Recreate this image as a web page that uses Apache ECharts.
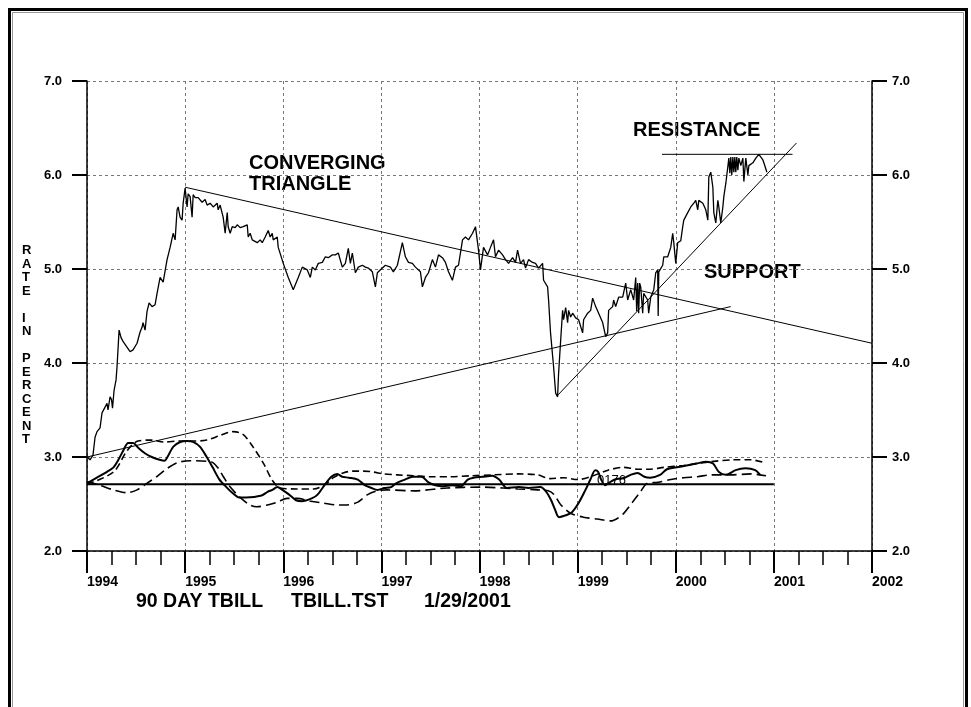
<!DOCTYPE html>
<html>
<head>
<meta charset="utf-8">
<script src="https://cdn.jsdelivr.net/npm/echarts@6/dist/echarts.min.js"></script>
<style>
html, body { margin: 0; padding: 0; background: #fff; }
#chart { width: 971px; height: 707px; }
</style>
</head>
<body>
<div id="chart"></div>
<script>
// 90 day T-bill rate, weekly-ish readings [decimal year, percent]
var tbill = [
  [1994.000, 3.00], [1994.031, 2.97], [1994.061, 3.02], [1994.082, 3.21], [1994.102, 3.27],
  [1994.133, 3.31], [1994.153, 3.47], [1994.184, 3.53], [1994.204, 3.57], [1994.214, 3.50],
  [1994.235, 3.64], [1994.250, 3.61], [1994.260, 3.52], [1994.276, 3.71], [1994.296, 3.82],
  [1994.306, 3.96], [1994.327, 4.35], [1994.347, 4.27], [1994.367, 4.23], [1994.439, 4.12],
  [1994.469, 4.14], [1994.510, 4.21], [1994.541, 4.33], [1994.561, 4.38], [1994.571, 4.43],
  [1994.592, 4.35], [1994.612, 4.55], [1994.633, 4.64], [1994.663, 4.60], [1994.694, 4.62],
  [1994.714, 4.74], [1994.745, 4.91], [1994.776, 4.86], [1994.816, 5.10], [1994.847, 5.23],
  [1994.878, 5.38], [1994.898, 5.31], [1994.918, 5.63], [1994.929, 5.66], [1994.949, 5.55],
  [1994.969, 5.52], [1994.980, 5.70], [1995.000, 5.86], [1995.020, 5.66], [1995.031, 5.80],
  [1995.051, 5.77], [1995.071, 5.55], [1995.082, 5.79], [1995.102, 5.76], [1995.133, 5.76],
  [1995.173, 5.71], [1995.204, 5.74], [1995.224, 5.68], [1995.255, 5.70], [1995.286, 5.66],
  [1995.327, 5.70], [1995.337, 5.63], [1995.357, 5.68], [1995.388, 5.55], [1995.408, 5.38],
  [1995.429, 5.60], [1995.439, 5.45], [1995.459, 5.38], [1995.480, 5.45], [1995.510, 5.44],
  [1995.531, 5.47], [1995.561, 5.44], [1995.592, 5.45], [1995.633, 5.47], [1995.643, 5.34],
  [1995.663, 5.38], [1995.684, 5.31], [1995.694, 5.33], [1995.735, 5.28], [1995.765, 5.31],
  [1995.786, 5.28], [1995.816, 5.34], [1995.847, 5.41], [1995.867, 5.34], [1995.888, 5.38],
  [1995.898, 5.31], [1995.939, 5.34], [1995.949, 5.23], [1996.000, 5.06], [1996.051, 4.91],
  [1996.102, 4.78], [1996.153, 4.91], [1996.194, 5.02], [1996.245, 4.99], [1996.276, 4.91],
  [1996.296, 5.02], [1996.327, 4.99], [1996.357, 5.06], [1996.398, 5.07], [1996.429, 5.13],
  [1996.459, 5.12], [1996.500, 5.15], [1996.531, 5.15], [1996.561, 5.17], [1996.602, 5.02],
  [1996.633, 5.06], [1996.663, 5.22], [1996.684, 5.06], [1996.704, 5.17], [1996.735, 4.96],
  [1996.765, 5.02], [1996.806, 5.04], [1996.837, 5.02], [1996.867, 5.01], [1996.908, 4.97],
  [1996.939, 4.81], [1996.959, 4.96], [1997.010, 5.01], [1997.041, 5.04], [1997.092, 5.02],
  [1997.122, 4.97], [1997.163, 5.04], [1997.214, 5.28], [1997.245, 5.13], [1997.276, 5.07],
  [1997.316, 5.06], [1997.347, 5.02], [1997.398, 4.97], [1997.418, 4.81], [1997.449, 4.91],
  [1997.480, 4.96], [1997.520, 5.10], [1997.551, 5.02], [1997.582, 5.15], [1997.622, 5.12],
  [1997.653, 5.07], [1997.684, 4.97], [1997.724, 4.88], [1997.755, 5.02], [1997.786, 5.04],
  [1997.827, 5.31], [1997.857, 5.34], [1997.888, 5.31], [1997.929, 5.38], [1997.959, 5.45],
  [1997.990, 5.20], [1998.010, 4.99], [1998.041, 5.23], [1998.082, 5.15], [1998.112, 5.23],
  [1998.143, 5.31], [1998.163, 5.13], [1998.194, 5.20], [1998.235, 5.15], [1998.265, 5.10],
  [1998.296, 5.06], [1998.337, 5.12], [1998.367, 5.07], [1998.388, 5.20], [1998.418, 5.06],
  [1998.449, 5.10], [1998.469, 5.01], [1998.500, 5.10], [1998.541, 5.07], [1998.571, 5.06],
  [1998.602, 5.01], [1998.643, 5.06], [1998.653, 4.88], [1998.694, 4.81], [1998.704, 4.67],
  [1998.724, 4.32], [1998.755, 3.96], [1998.776, 3.68], [1998.796, 3.64], [1998.806, 3.89],
  [1998.827, 4.24], [1998.847, 4.56], [1998.857, 4.46], [1998.878, 4.59], [1998.898, 4.43],
  [1998.908, 4.56], [1998.929, 4.49], [1998.949, 4.53], [1998.980, 4.48], [1999.010, 4.46],
  [1999.051, 4.32], [1999.061, 4.46], [1999.102, 4.53], [1999.133, 4.56], [1999.153, 4.69],
  [1999.184, 4.60], [1999.214, 4.53], [1999.255, 4.43], [1999.286, 4.28], [1999.306, 4.32],
  [1999.316, 4.56], [1999.357, 4.60], [1999.367, 4.67], [1999.388, 4.60], [1999.418, 4.70],
  [1999.459, 4.70], [1999.490, 4.85], [1999.510, 4.67], [1999.541, 4.78], [1999.571, 4.67],
  [1999.592, 4.91], [1999.602, 4.55], [1999.612, 4.85], [1999.622, 4.53], [1999.632, 4.85],
  [1999.643, 4.81], [1999.663, 4.53], [1999.673, 4.74], [1999.714, 4.67], [1999.724, 4.53],
  [1999.745, 4.70], [1999.776, 4.78], [1999.796, 4.96], [1999.816, 4.99], [1999.821, 4.50],
  [1999.827, 4.97], [1999.867, 5.04], [1999.878, 5.13], [1999.918, 5.13], [1999.949, 5.23],
  [1999.969, 5.38], [1999.980, 5.28], [2000.000, 5.06], [2000.020, 5.28], [2000.051, 5.30],
  [2000.071, 5.45], [2000.082, 5.52], [2000.122, 5.60], [2000.153, 5.66], [2000.184, 5.70],
  [2000.204, 5.73], [2000.224, 5.63], [2000.235, 5.73], [2000.276, 5.70], [2000.306, 5.63],
  [2000.327, 5.52], [2000.337, 5.98], [2000.357, 6.03], [2000.378, 5.87], [2000.388, 5.60],
  [2000.408, 5.49], [2000.429, 5.73], [2000.439, 5.66], [2000.459, 5.49], [2000.480, 5.66],
  [2000.490, 5.77], [2000.510, 5.91], [2000.531, 6.09], [2000.541, 6.18], [2000.551, 6.02],
  [2000.561, 6.19], [2000.571, 6.00], [2000.582, 6.19], [2000.592, 6.03], [2000.602, 6.19],
  [2000.612, 6.03], [2000.622, 6.19], [2000.633, 6.05], [2000.643, 6.18], [2000.663, 6.10],
  [2000.684, 6.18], [2000.694, 5.93], [2000.714, 6.18], [2000.735, 6.00], [2000.745, 6.10],
  [2000.786, 6.13], [2000.816, 6.18], [2000.847, 6.22], [2000.888, 6.16], [2000.898, 6.13],
  [2000.929, 6.03]
];

// oscillators drawn under the price
var oscSolid = [
  [1994.00, 2.72], [1994.10, 2.78], [1994.20, 2.84], [1994.27, 2.89], [1994.32, 2.97],
  [1994.37, 3.07], [1994.42, 3.15], [1994.47, 3.15], [1994.52, 3.10], [1994.59, 3.04],
  [1994.66, 3.00], [1994.74, 2.97], [1994.79, 2.96], [1994.82, 3.00], [1994.88, 3.11],
  [1994.95, 3.16], [1995.02, 3.17], [1995.08, 3.16], [1995.15, 3.11], [1995.22, 3.00],
  [1995.28, 2.89], [1995.35, 2.76], [1995.42, 2.68], [1995.48, 2.62], [1995.55, 2.57],
  [1995.62, 2.57], [1995.78, 2.59], [1995.84, 2.63], [1995.89, 2.65], [1995.94, 2.68],
  [1995.99, 2.65], [1996.06, 2.60], [1996.13, 2.54], [1996.19, 2.53], [1996.29, 2.56],
  [1996.35, 2.60], [1996.42, 2.70], [1996.49, 2.79], [1996.55, 2.82], [1996.60, 2.79],
  [1996.67, 2.78], [1996.76, 2.76], [1996.83, 2.70], [1996.90, 2.67], [1996.96, 2.65],
  [1997.03, 2.67], [1997.10, 2.68], [1997.15, 2.72], [1997.24, 2.76], [1997.32, 2.79],
  [1997.41, 2.79], [1997.48, 2.73], [1997.55, 2.70], [1997.63, 2.69], [1997.72, 2.70],
  [1997.81, 2.69], [1997.88, 2.76], [1997.94, 2.78], [1998.03, 2.79], [1998.13, 2.80],
  [1998.20, 2.76], [1998.28, 2.67], [1998.40, 2.68], [1998.50, 2.67], [1998.62, 2.68],
  [1998.68, 2.63], [1998.73, 2.54], [1998.77, 2.44], [1998.81, 2.36], [1998.88, 2.38],
  [1998.94, 2.41], [1999.01, 2.51], [1999.08, 2.65], [1999.13, 2.76], [1999.18, 2.86],
  [1999.21, 2.84], [1999.24, 2.76], [1999.28, 2.70], [1999.31, 2.72], [1999.38, 2.76],
  [1999.48, 2.78], [1999.54, 2.81], [1999.61, 2.83], [1999.68, 2.79], [1999.74, 2.78],
  [1999.84, 2.81], [1999.91, 2.87], [2000.01, 2.89], [2000.11, 2.91], [2000.21, 2.93],
  [2000.31, 2.95], [2000.38, 2.93], [2000.44, 2.84], [2000.51, 2.81], [2000.61, 2.86],
  [2000.71, 2.88], [2000.81, 2.86], [2000.86, 2.81]
];

var oscShortDash = [
  [1994.00, 2.71], [1994.27, 2.84], [1994.41, 3.07], [1994.52, 3.17], [1994.66, 3.18],
  [1994.78, 3.16], [1994.95, 3.17], [1995.08, 3.17], [1995.22, 3.18], [1995.36, 3.23],
  [1995.49, 3.27], [1995.59, 3.24], [1995.69, 3.11], [1995.80, 2.93], [1995.89, 2.75],
  [1995.97, 2.67], [1996.14, 2.66], [1996.31, 2.66], [1996.43, 2.71], [1996.51, 2.78],
  [1996.61, 2.83], [1996.71, 2.85], [1996.82, 2.85], [1996.92, 2.84], [1997.02, 2.82],
  [1997.16, 2.81], [1997.33, 2.80], [1997.50, 2.79], [1997.70, 2.79], [1997.91, 2.80],
  [1998.14, 2.81], [1998.39, 2.82], [1998.59, 2.81], [1998.72, 2.77], [1998.86, 2.78],
  [1999.00, 2.76], [1999.13, 2.79], [1999.31, 2.86], [1999.47, 2.89], [1999.61, 2.87],
  [1999.74, 2.87], [1999.88, 2.89], [2000.08, 2.91], [2000.36, 2.95], [2000.59, 2.97],
  [2000.77, 2.97], [2000.90, 2.94]
];

var oscLongDash = [
  [1994.00, 2.74], [1994.13, 2.70], [1994.27, 2.65], [1994.41, 2.62], [1994.51, 2.65],
  [1994.61, 2.72], [1994.71, 2.79], [1994.82, 2.88], [1994.92, 2.94], [1995.05, 2.96],
  [1995.26, 2.95], [1995.33, 2.89], [1995.39, 2.79], [1995.46, 2.68], [1995.56, 2.57],
  [1995.66, 2.49], [1995.73, 2.47], [1995.84, 2.49], [1995.94, 2.52], [1996.04, 2.56],
  [1996.14, 2.56], [1996.28, 2.53], [1996.41, 2.51], [1996.55, 2.49], [1996.65, 2.49],
  [1996.76, 2.52], [1996.86, 2.60], [1996.96, 2.64], [1997.06, 2.65], [1997.33, 2.64],
  [1997.67, 2.67], [1998.01, 2.68], [1998.24, 2.67], [1998.39, 2.66], [1998.59, 2.65],
  [1998.70, 2.64], [1998.76, 2.60], [1998.83, 2.49], [1998.93, 2.40], [1999.06, 2.36],
  [1999.20, 2.34], [1999.34, 2.32], [1999.41, 2.35], [1999.47, 2.40], [1999.56, 2.52],
  [1999.64, 2.63], [1999.71, 2.72], [1999.82, 2.73], [1999.95, 2.76], [2000.08, 2.78],
  [2000.22, 2.79], [2000.36, 2.81], [2000.56, 2.81], [2000.77, 2.82], [2000.92, 2.80]
];

// hand drawn trend lines
var triangleTop = [[1995.0, 5.87], [2002.0, 4.21]];
var triangleBottom = [[1994.0, 3.0], [2000.56, 4.60]];
var supportLine = [[1998.80, 3.66], [2001.23, 6.34]];
var resistanceLine = [[1999.86, 6.22], [2001.19, 6.22]];
var oscBaseline = [[1994.0, 2.71], [2001.0, 2.71]];

var font = '"Liberation Sans", Arial, Helvetica, sans-serif';

function line(data, width, type, smooth) {
  return {
    type: 'line',
    data: data,
    symbol: 'none',
    smooth: smooth || false,
    silent: true,
    lineStyle: { color: '#000', width: width, type: type || 'solid' },
    z: 3
  };
}

var chart = echarts.init(document.getElementById('chart'));
chart.setOption({
  animation: false,
  backgroundColor: '#fff',
  grid: { left: 87, right: 99, top: 81, bottom: 156 },
  xAxis: {
    type: 'value',
    min: 1994,
    max: 2002,
    interval: 1,
    axisLine: { show: true, onZero: false, lineStyle: { color: '#000', width: 1.5 } },
    axisTick: { show: true, inside: false, length: 22, lineStyle: { color: '#000', width: 2 } },
    minorTick: { show: true, splitNumber: 4, length: 14, lineStyle: { color: '#000', width: 1.5 } },
    axisLabel: {
      color: '#000', fontFamily: font, fontSize: 14, fontWeight: 'bold',
      align: 'left', margin: 24, formatter: function (v) { return String(v); }
    },
    splitLine: { show: true, lineStyle: { color: '#777', width: 1, type: [3, 3] } }
  },
  yAxis: [{
    type: 'value',
    position: 'left',
    min: 2,
    max: 7,
    interval: 1,
    axisLine: { show: true, lineStyle: { color: '#000', width: 1.5 } },
    axisTick: { show: true, inside: false, length: 15, lineStyle: { color: '#000', width: 2 } },
    axisLabel: {
      color: '#000', fontFamily: font, fontSize: 13, fontWeight: 'bold', margin: 25,
      formatter: function (v) { return v.toFixed(1); }
    },
    splitLine: { show: true, lineStyle: { color: '#777', width: 1, type: [3, 3] } }
  }, {
    type: 'value',
    position: 'right',
    min: 2,
    max: 7,
    interval: 1,
    axisLine: { show: true, lineStyle: { color: '#000', width: 1.5 } },
    axisTick: { show: true, inside: false, length: 15, lineStyle: { color: '#000', width: 2 } },
    axisLabel: {
      color: '#000', fontFamily: font, fontSize: 13, fontWeight: 'bold', margin: 20,
      formatter: function (v) { return v.toFixed(1); }
    },
    splitLine: { show: false }
  }],
  series: [
    line(oscLongDash, 1.6, [10, 5], 0.3),
    line(oscShortDash, 1.6, [7, 4], 0.3),
    line(oscSolid, 2, 'solid', 0.3),
    line(oscBaseline, 2),
    line(triangleTop, 1),
    line(triangleBottom, 1),
    line(supportLine, 1),
    line(resistanceLine, 1),
    line(tbill, 1.3)
  ],
  graphic: [
    { type: 'rect', shape: { x: 9.5, y: 9.5, width: 957, height: 760 },
      style: { fill: 'none', stroke: '#000', lineWidth: 3 }, silent: true },
    { type: 'rect', shape: { x: 12.5, y: 12.5, width: 951, height: 760 },
      style: { fill: 'none', stroke: '#999', lineWidth: 1 }, silent: true },
    { type: 'text', left: 22, top: 244,
      style: { text: 'R\nA\nT\nE\n\nI\nN\n\nP\nE\nR\nC\nE\nN\nT', fill: '#000',
        font: 'bold 13px ' + font, lineHeight: 13.5, align: 'center' } },
    { type: 'text', left: 249, top: 153,
      style: { text: 'CONVERGING\nTRIANGLE', fill: '#000', font: 'bold 20px ' + font, lineHeight: 21 } },
    { type: 'text', left: 633, top: 120,
      style: { text: 'RESISTANCE', fill: '#000', font: 'bold 20px ' + font } },
    { type: 'text', left: 704, top: 262,
      style: { text: 'SUPPORT', fill: '#000', font: 'bold 20px ' + font } },
    { type: 'text', left: 597, top: 474,
      style: { text: '0176', fill: '#000', font: '13px ' + font } },
    { type: 'text', left: 136, top: 592,
      style: { text: '90 DAY TBILL', fill: '#000', font: 'bold 19.5px ' + font } },
    { type: 'text', left: 291, top: 592,
      style: { text: 'TBILL.TST', fill: '#000', font: 'bold 19.5px ' + font } },
    { type: 'text', left: 424, top: 592,
      style: { text: '1/29/2001', fill: '#000', font: 'bold 19.5px ' + font } }
  ]
});
</script>
</body>
</html>
